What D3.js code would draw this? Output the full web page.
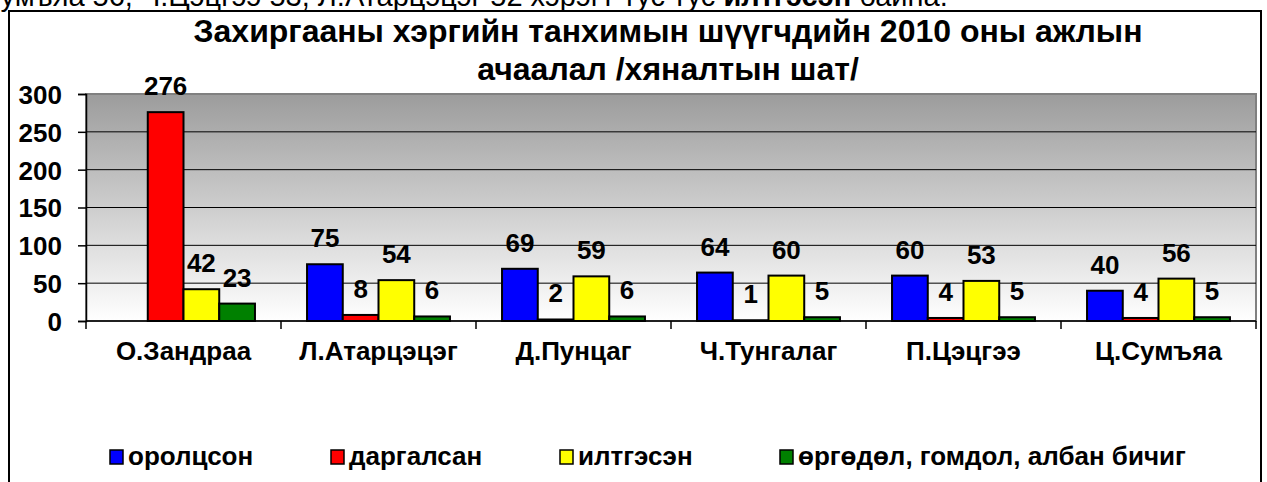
<!DOCTYPE html>
<html>
<head>
<meta charset="utf-8">
<script src="https://cdn.jsdelivr.net/npm/d3@7"></script>
<style>
  body { margin: 0; background: #fff; }
  text { font-family: "Liberation Sans", Arial, sans-serif; font-weight: bold; fill: #000; }
</style>
</head>
<body>
<div id="chart"></div>
<script>
var width = 1267;
var height = 482;

// data
var judges = ["О.Зандраа", "Л.Атарцэцэг", "Д.Пунцаг", "Ч.Тунгалаг", "П.Цэцгээ", "Ц.Сумъяа"];
var seriesNames = ["оролцсон", "даргалсан", "илтгэсэн", "өргөдөл, гомдол, албан бичиг"];
var seriesColors = ["#0000ff", "#ff0000", "#ffff00", "#008000"];
var orolcson = [null, 75, 69, 64, 60, 40];
var dargalsan = [276, 8, 2, 1, 4, 4];
var iltgesen = [42, 54, 59, 60, 53, 56];
var urgudul = [23, 6, 6, 5, 5, 5];
var yTicks = [0, 50, 100, 150, 200, 250, 300];
var titleLines = ["Захиргааны хэргийн танхимын шүүгчдийн  2010 оны ажлын", "ачаалал /хяналтын шат/"];

var allSeries = [orolcson, dargalsan, iltgesen, urgudul];

var plot = {left: 86, right: 1256, top: 94, bottom: 321};

var svg = d3.select("#chart").append("svg")
  .attr("width", width)
  .attr("height", height);

// text line above the chart (cut off at the top)
var topText = svg.append("text").attr("x", -50).attr("y", 6).style("font-size", "29px");
topText.append("tspan").style("font-weight", "normal").text("Ц.Сумъяа 56, Ч.Цэцгээ 53, Л.Атарцэцэг 52  хэрэгт тус тус ");
topText.append("tspan").style("font-weight", "bold").text("илтгэсэн");
topText.append("tspan").style("font-weight", "normal").text(" байна.");

// chart border
svg.append("rect")
  .attr("x", 9).attr("y", 11)
  .attr("width", 1252).attr("height", 490)
  .attr("fill", "#fff")
  .attr("stroke", "#000").attr("stroke-width", 2);

// plot background gradient
var defs = svg.append("defs");
var grad = defs.append("linearGradient").attr("id", "bg")
  .attr("x1", 0).attr("y1", 0).attr("x2", 0).attr("y2", 1);
grad.append("stop").attr("offset", "0%").attr("stop-color", "#9c9c9c");
grad.append("stop").attr("offset", "100%").attr("stop-color", "#ffffff");

var x0 = d3.scaleBand().domain(judges).range([plot.left, plot.right]).paddingInner(0).paddingOuter(0);
var inner = 0.733;
var x1 = d3.scaleBand().domain(d3.range(4))
  .range([0, x0.bandwidth() * inner]);
var y = d3.scaleLinear().domain([0, 300]).range([plot.bottom, plot.top]);

svg.append("rect")
  .attr("x", plot.left).attr("y", plot.top)
  .attr("width", plot.right - plot.left).attr("height", plot.bottom - plot.top)
  .attr("fill", "url(#bg)")
  .attr("stroke", "#808080").attr("stroke-width", 2);

// gridlines
svg.append("g").selectAll("line")
  .data(yTicks.filter(function(d) { return d > 0 && d < 300; }))
  .enter().append("line")
  .attr("x1", plot.left).attr("x2", plot.right)
  .attr("y1", function(d) { return y(d); })
  .attr("y2", function(d) { return y(d); })
  .attr("stroke", "#000").attr("stroke-width", 1);

// y axis
var yAxis = svg.append("g")
  .attr("transform", "translate(" + plot.left + ",0)")
  .call(d3.axisLeft(y).tickValues(yTicks).tickSize(8).tickPadding(16));
yAxis.select(".domain").attr("stroke", "#000").attr("stroke-width", 1.5);
yAxis.selectAll(".tick line").attr("stroke", "#000").attr("stroke-width", 1.5);
yAxis.selectAll("text").style("font-size", "26px").attr("font-family", null).attr("dy", "0.36em");

// bars
var groups = svg.append("g").selectAll("g")
  .data(judges)
  .enter().append("g")
  .attr("transform", function(d) {
    return "translate(" + (x0(d) + x0.bandwidth() * (1 - inner) / 2) + ",0)";
  });

groups.each(function(judge, i) {
  var g = d3.select(this);
  allSeries.forEach(function(s, k) {
    var v = s[i];
    if (v === null) return;
    g.append("rect")
      .attr("x", x1(k))
      .attr("y", y(v))
      .attr("width", x1.bandwidth())
      .attr("height", y(0) - y(v))
      .attr("fill", seriesColors[k])
      .attr("stroke", "#000").attr("stroke-width", 2);
  });
  allSeries.forEach(function(s, k) {
    var v = s[i];
    if (v === null) return;
    g.append("text")
      .attr("x", x1(k) + x1.bandwidth() / 2)
      .attr("y", y(v) - 17)
      .attr("text-anchor", "middle")
      .style("font-size", "26px")
      .text(v);
  });
});

// x axis
var xAxis = svg.append("g")
  .attr("transform", "translate(0," + plot.bottom + ")");
xAxis.append("line")
  .attr("x1", plot.left).attr("x2", plot.right)
  .attr("stroke", "#000").attr("stroke-width", 1.5);
xAxis.selectAll(".tk")
  .data(d3.range(judges.length + 1))
  .enter().append("line")
  .attr("class", "tk")
  .attr("x1", function(d) { return plot.left + d * x0.bandwidth(); })
  .attr("x2", function(d) { return plot.left + d * x0.bandwidth(); })
  .attr("y1", 0).attr("y2", 8)
  .attr("stroke", "#000").attr("stroke-width", 1.5);
xAxis.selectAll(".lbl")
  .data(judges)
  .enter().append("text")
  .attr("class", "lbl")
  .attr("x", function(d) { return x0(d) + x0.bandwidth() / 2; })
  .attr("y", 39)
  .attr("text-anchor", "middle")
  .style("font-size", "26px")
  .text(function(d) { return d; });

// title
svg.append("g").selectAll("text")
  .data(titleLines)
  .enter().append("text")
  .attr("x", 668)
  .attr("y", function(d, i) { return 42 + i * 38; })
  .attr("text-anchor", "middle")
  .style("font-size", "32px")
  .text(function(d) { return d; });

// legend
var legendX = [110, 331, 560, 780];
var legend = svg.append("g").selectAll("g")
  .data(seriesNames)
  .enter().append("g")
  .attr("transform", function(d, i) { return "translate(" + legendX[i] + ",450)"; });
legend.append("rect")
  .attr("width", 13).attr("height", 14)
  .attr("fill", function(d, i) { return seriesColors[i]; })
  .attr("stroke", "#000").attr("stroke-width", 1.5);
legend.append("text")
  .attr("x", 18).attr("y", 15)
  .style("font-size", "26px")
  .text(function(d) { return d; });
</script>
</body>
</html>
